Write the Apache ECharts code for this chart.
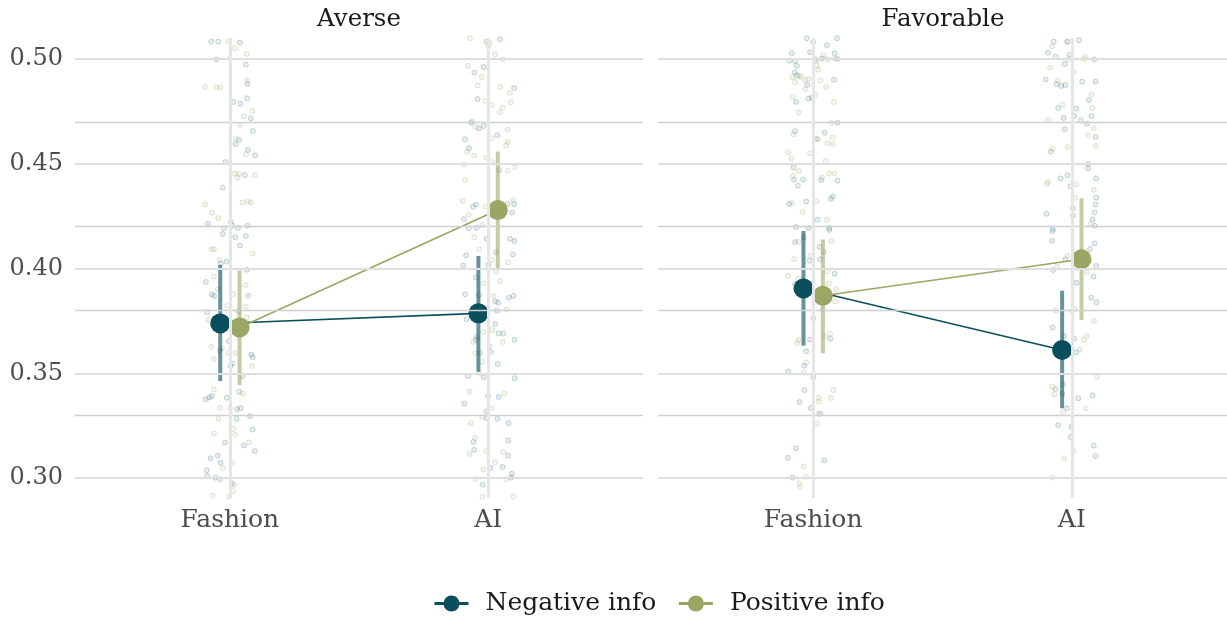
<!DOCTYPE html>
<html>
<head>
<meta charset="utf-8">
<script src="https://cdn.jsdelivr.net/npm/echarts@6/dist/echarts.min.js"></script>
<style>
  html, body { margin: 0; padding: 0; background: #ffffff; }
  #chart { width: 1227px; height: 619px; }
</style>
</head>
<body>
<div id="chart"></div>
<script>
// ---- data -------------------------------------------------------------
const categories = ['Fashion', 'AI'];
const facets = ['Averse', 'Favorable'];
const groups = ['Negative info', 'Positive info'];
const yTicks = [0.30, 0.35, 0.40, 0.45, 0.50];
const yGrid = [0.30, 0.325, 0.35, 0.375, 0.40, 0.425, 0.45, 0.475, 0.50];

// estimated means and interval limits, one entry per category
const averseNegMean = [0.3738, 0.3786];
const averseNegLow  = [0.3463, 0.3507];
const averseNegHigh = [0.4017, 0.4060];
const aversePosMean = [0.3719, 0.4279];
const aversePosLow  = [0.3444, 0.4001];
const aversePosHigh = [0.3990, 0.4558];
const favNegMean = [0.3905, 0.3611];
const favNegLow  = [0.3632, 0.3333];
const favNegHigh = [0.4179, 0.3894];
const favPosMean = [0.3870, 0.4044];
const favPosLow  = [0.3595, 0.3754];
const favPosHigh = [0.4139, 0.4335];

// raw observations: [horizontal jitter (category units), value]
const averseNegFashion = [[-0.072,0.5083],[-0.045,0.5083],[0.039,0.5078],[-0.053,0.4998],[0.062,0.4973],[0.068,0.4881],[0.066,0.4812],[0.014,0.4795],[0.041,0.4787],[0.081,0.4717],[0.089,0.4656],[0.036,0.4613],[0.022,0.4594],[0.070,0.4566],[0.098,0.4540],[-0.017,0.4508],[0.058,0.4446],[-0.028,0.4386],[-0.085,0.4214],[0.004,0.4222],[0.009,0.4204],[0.068,0.4204],[-0.023,0.4193],[0.031,0.4193],
  [-0.028,0.4165],[0.021,0.4149],[0.062,0.4155],[0.039,0.4109],[-0.013,0.4033],[-0.035,0.4025],[0.065,0.3994],[-0.093,0.3936],[-0.070,0.3877],[-0.061,0.3869],[0.070,0.3870],[-0.088,0.3792],[0.032,0.3797],[-0.004,0.3654],[-0.039,0.3608],[0.083,0.3590],[0.088,0.3577],[0.008,0.3547],[0.003,0.3535],[0.049,0.3487],[0.036,0.3412],[-0.070,0.3391],[-0.080,0.3385],[-0.093,0.3376],[-0.012,0.3383],[0.028,0.3329],[0.041,0.3334],[0.078,0.3296],[0.026,0.3283],[0.088,0.3232],[-0.019,0.3170],[0.054,0.3156],[0.096,0.3129],[-0.075,0.3095],[-0.047,0.3107],[-0.036,0.3073],[-0.090,0.3038],[-0.088,0.3011],[-0.057,0.3002],[-0.039,0.2994],[0.008,0.2975]];
const aversePosFashion = [[-0.005,0.5083],[0.019,0.5051],[0.065,0.5024],[0.000,0.5003],[0.068,0.4897],[-0.096,0.4866],[-0.052,0.4866],[-0.037,0.4863],[0.087,0.4752],[0.053,0.4726],[0.039,0.4685],[0.023,0.4621],[0.062,0.4545],[0.019,0.4453],[0.035,0.4451],[0.030,0.4434],[0.097,0.4446],[-0.096,0.4306],[0.049,0.4316],[0.070,0.4321],[0.081,0.4316],[-0.070,0.4267],[-0.045,0.4241],
  [-0.071,0.4092],[-0.061,0.4092],[0.088,0.4071],[-0.041,0.4041],[-0.062,0.3961],[0.061,0.3921],[-0.047,0.3901],[0.013,0.3878],[-0.010,0.3824],[0.062,0.3818],[0.065,0.3767],[-0.084,0.3754],[-0.072,0.3627],[-0.031,0.3619],[-0.006,0.3598],[-0.062,0.3568],[0.021,0.3598],[0.085,0.3535],[-0.062,0.3423],[0.049,0.3404],[-0.039,0.3336],[0.001,0.3333],[-0.044,0.3283],[0.013,0.3235],[-0.062,0.3213],[0.021,0.3207],[0.074,0.3170],[0.008,0.3076],[-0.028,0.3048],[0.016,0.2967],[0.013,0.2938],[-0.067,0.2917],[-0.004,0.2911]];
const averseNegAI = [[-0.006,0.5083],[0.047,0.5094],[-0.017,0.4962],[-0.053,0.4935],[0.101,0.4861],[-0.041,0.4809],[-0.066,0.4696],[-0.035,0.4669],[-0.017,0.4680],[-0.089,0.4617],[0.035,0.4636],[-0.074,0.4574],[0.043,0.4470],[-0.059,0.4295],[-0.047,0.4305],[0.101,0.4308],[0.075,0.4308],[0.093,0.4267],[-0.094,0.4235],[-0.075,0.4192],[-0.044,0.4195],
  [-0.005,0.4142],[0.085,0.4142],[0.102,0.4131],[-0.085,0.4063],[0.031,0.4076],[0.096,0.4067],[-0.096,0.4015],[0.001,0.4018],[-0.047,0.3958],[-0.089,0.3877],[-0.035,0.3872],[0.028,0.3843],[0.039,0.3837],[0.081,0.3861],[0.098,0.3870],[0.034,0.3799],[-0.083,0.3759],[0.028,0.3735],[0.041,0.3690],[0.059,0.3690],[0.102,0.3660],[-0.044,0.3675],[-0.047,0.3660],[0.010,0.3603],[-0.031,0.3598],[0.037,0.3544],[-0.078,0.3488],[-0.017,0.3481],[0.103,0.3477],[0.000,0.3393],[0.041,0.3387],[-0.092,0.3356],[-0.006,0.3318],[-0.005,0.3286],[0.036,0.3283],[0.079,0.3263],[-0.057,0.3172],[-0.054,0.3135],[0.078,0.3180],[0.078,0.3107],[0.009,0.3049],[0.056,0.3053],[0.092,0.3021],[0.089,0.3002],[-0.021,0.2968]];
const aversePosAI = [[-0.070,0.5099],[0.005,0.5078],[0.001,0.5064],[0.027,0.5022],[0.058,0.4998],[-0.079,0.4967],[-0.025,0.4914],[-0.040,0.4874],[0.048,0.4866],[0.084,0.4838],[-0.012,0.4800],[0.014,0.4780],[0.088,0.4793],[0.057,0.4768],[0.045,0.4747],[-0.061,0.4701],[-0.049,0.4674],[0.075,0.4663],[0.013,0.4622],[0.076,0.4604],[0.070,0.4588],[-0.081,0.4556],[-0.054,0.4539],[-0.008,0.4529],[0.014,0.4508],[-0.093,0.4496],[0.076,0.4467],[0.102,0.4483],[-0.089,0.4424],[-0.098,0.4322],[-0.010,0.4295],[0.096,0.4327],[-0.075,0.4257],[-0.023,0.4208],
  [-0.054,0.4149],[-0.034,0.4092],[0.014,0.4041],[0.078,0.4029],[0.031,0.3985],[0.047,0.3940],[-0.018,0.3929],[0.021,0.3869],[0.072,0.3805],[-0.018,0.3698],[0.017,0.3706],[-0.057,0.3650],[0.057,0.3650],[0.005,0.3630],[-0.049,0.3595],[-0.023,0.3555],[-0.034,0.3500],[-0.072,0.3412],[0.063,0.3403],[0.014,0.3333],[-0.022,0.3291],[-0.067,0.3263],[-0.050,0.3191],[-0.072,0.3115],[-0.006,0.3129],[0.059,0.3124],[0.027,0.3075],[-0.018,0.3041],[-0.049,0.2995],[0.070,0.2994],[-0.022,0.2911],[0.098,0.2911]];
const favNegFashion = [[-0.025,0.5099],[0.000,0.5080],[0.092,0.5099],[-0.083,0.5027],[-0.012,0.5032],[0.053,0.5065],[0.083,0.5027],[-0.092,0.4992],[-0.070,0.4990],[0.008,0.4998],[0.034,0.5002],[0.094,0.5000],[-0.063,0.4967],[-0.072,0.4936],[-0.063,0.4921],[0.080,0.4901],[-0.022,0.4876],[-0.066,0.4795],[-0.018,0.4811],[-0.005,0.4815],[0.094,0.4696],[-0.070,0.4655],[0.044,0.4648],[0.012,0.4618],[-0.076,0.4483],[-0.074,0.4424],[-0.039,0.4424],[0.031,0.4422],[0.094,0.4419],[-0.059,0.4395],[0.076,0.4343],[0.068,0.4333],[-0.093,0.4308],[-0.027,0.4320],[0.017,0.4233],[-0.066,0.4198],[-0.018,0.4193],[0.063,0.4193],
  [-0.037,0.4149],[-0.070,0.4126],[0.062,0.4184],[0.025,0.4104],[0.041,0.4080],[-0.013,0.4037],[0.027,0.4044],[0.083,0.3975],[-0.070,0.3924],[0.001,0.3762],[-0.012,0.3661],[0.066,0.3665],[-0.027,0.3605],[-0.034,0.3536],[-0.096,0.3508],[0.001,0.3481],[-0.034,0.3420],[-0.053,0.3363],[-0.009,0.3334],[0.027,0.3307],[-0.067,0.3142],[-0.098,0.3097],[0.043,0.3084],[-0.080,0.3002]];
const favPosFashion = [[0.040,0.5018],[0.012,0.4992],[0.056,0.4998],[0.085,0.5002],[0.014,0.4968],[0.019,0.4949],[-0.079,0.4913],[-0.053,0.4921],[-0.047,0.4914],[-0.031,0.4898],[-0.018,0.4906],[-0.070,0.4889],[0.028,0.4897],[-0.031,0.4857],[0.050,0.4866],[-0.079,0.4819],[0.008,0.4830],[0.080,0.4795],[-0.056,0.4745],[0.070,0.4695],[-0.076,0.4640],[0.076,0.4626],[0.019,0.4618],[0.056,0.4598],[0.075,0.4593],[-0.096,0.4555],[-0.012,0.4550],[-0.085,0.4524],[0.048,0.4513],[-0.056,0.4465],[-0.079,0.4442],[0.062,0.4453],[0.083,0.4453],[0.034,0.4434],[-0.083,0.4314],[0.012,0.4320],[-0.041,0.4270],[0.053,0.4233],
  [-0.057,0.4128],[0.070,0.4131],[-0.009,0.4061],[-0.074,0.4045],[-0.098,0.3966],[-0.056,0.3951],[0.053,0.3986],[0.061,0.3929],[0.088,0.3901],[0.085,0.3843],[0.037,0.3805],[-0.057,0.3659],[-0.061,0.3643],[0.066,0.3690],[0.044,0.3676],[-0.027,0.3551],[-0.037,0.3504],[0.078,0.3420],[0.021,0.3383],[0.022,0.3365],[0.070,0.3382],[0.021,0.3307],[0.014,0.3260],[-0.037,0.3056],[-0.028,0.3006],[-0.053,0.2975],[-0.051,0.2957]];
const favNegAI = [[-0.070,0.5083],[-0.018,0.5083],[0.028,0.5089],[-0.092,0.5030],[-0.063,0.5011],[-0.009,0.5020],[0.087,0.4998],[-0.028,0.4976],[-0.101,0.4902],[-0.059,0.4880],[-0.041,0.4871],[-0.025,0.4876],[0.040,0.4892],[0.092,0.4892],[0.066,0.4804],[-0.053,0.4766],[0.018,0.4763],[-0.031,0.4718],[0.009,0.4728],[0.035,0.4706],[0.059,0.4691],[0.076,0.4727],[-0.027,0.4664],[0.092,0.4628],[-0.081,0.4558],[0.063,0.4499],[0.063,0.4478],[-0.043,0.4430],[-0.017,0.4445],[0.094,0.4430],[-0.005,0.4392],[0.094,0.4338],[0.092,0.4306],[0.004,0.4287],[-0.098,0.4261],[0.004,0.4253],[0.088,0.4268],[0.080,0.4235],[0.089,0.4204],[-0.074,0.4189],
  [-0.074,0.4179],[-0.076,0.4133],[0.088,0.4120],[0.070,0.4093],[-0.025,0.4044],[-0.072,0.3993],[0.094,0.4012],[0.084,0.3961],[0.018,0.3932],[0.075,0.3861],[0.096,0.3839],[-0.074,0.3718],[-0.030,0.3678],[0.009,0.3666],[0.017,0.3600],[-0.063,0.3425],[-0.034,0.3447],[-0.037,0.3403],[0.025,0.3381],[0.080,0.3395],[-0.018,0.3333],[-0.053,0.3253],[-0.001,0.3245],[-0.005,0.3196],[0.085,0.3156],[0.092,0.3105]];
const favPosAI = [[-0.017,0.5080],[-0.076,0.5059],[0.052,0.5008],[0.048,0.5000],[-0.014,0.4998],[-0.084,0.4959],[0.008,0.4938],[-0.053,0.4897],[0.076,0.4830],[-0.035,0.4781],[0.080,0.4766],[-0.092,0.4709],[0.085,0.4669],[0.063,0.4636],[-0.074,0.4572],[-0.015,0.4580],[0.093,0.4585],[-0.092,0.4413],[-0.096,0.4403],[0.017,0.4402],[0.085,0.4376],[0.012,0.4337],[0.072,0.4212],
  [-0.017,0.4061],[-0.057,0.4009],[0.058,0.3982],[-0.063,0.3800],[0.001,0.3797],[0.009,0.3807],[0.085,0.3751],[0.057,0.3678],[0.047,0.3660],[0.031,0.3614],[0.097,0.3484],[-0.076,0.3436],[-0.068,0.3400],[-0.034,0.3315],[0.054,0.3333],[0.006,0.3130],[-0.030,0.3094],[-0.074,0.3003]];

// ---- styling ----------------------------------------------------------
const FONT = "'DejaVu Serif', 'Liberation Serif', serif";
const COLORS = {
  'Negative info': { main: '#0b4f5e', bar: 'rgba(11,79,94,0.62)', dotFill: 'rgba(11,79,94,0.12)', dotLine: 'rgba(11,79,94,0.26)' },
  'Positive info': { main: '#9ba664', bar: 'rgba(155,166,100,0.58)', dotFill: 'rgba(155,166,100,0.14)', dotLine: 'rgba(155,166,100,0.32)' }
};
const DODGE = 0.0375;

const panelData = [
  {
    'Negative info': { mean: averseNegMean, low: averseNegLow, high: averseNegHigh, raw: [averseNegFashion, averseNegAI] },
    'Positive info': { mean: aversePosMean, low: aversePosLow, high: aversePosHigh, raw: [aversePosFashion, aversePosAI] }
  },
  {
    'Negative info': { mean: favNegMean, low: favNegLow, high: favNegHigh, raw: [favNegFashion, favNegAI] },
    'Positive info': { mean: favPosMean, low: favPosLow, high: favPosHigh, raw: [favPosFashion, favPosAI] }
  }
];

const gridBoxes = [
  { left: 75, width: 568, top: 38, height: 460 },
  { left: 658, width: 570, top: 38, height: 460 }
];

const grids = [], xAxes = [], yAxes = [], series = [], graphics = [];

facets.forEach((facet, p) => {
  grids.push(Object.assign({ containLabel: false }, gridBoxes[p]));
  xAxes.push({
    type: 'value', gridIndex: p, min: -0.6, max: 1.6,
    axisLine: { show: false }, axisTick: { show: false }, splitLine: { show: false },
    axisLabel: {
      customValues: [0, 1],
      formatter: v => categories[Math.round(v)],
      fontFamily: FONT, fontSize: 25, color: '#4d4d4d', margin: 10
    }
  });
  yAxes.push({
    type: 'value', gridIndex: p, min: 0.2905, max: 0.51,
    axisLine: { show: false }, axisTick: { show: false }, splitLine: { show: false },
    axisLabel: {
      show: p === 0,
      customValues: yTicks,
      formatter: v => v.toFixed(2),
      fontFamily: FONT, fontSize: 24, color: '#4d4d4d', margin: 12
    }
  });

  // background grid: horizontal value lines and a vertical line per category
  const gridLines = yGrid.map((v, k) => ({
    yAxis: v,
    lineStyle: k % 2 === 0 ? { color: '#dedede', width: 2.2, type: 'solid' } : { color: '#d0d0d0', width: 1.4, type: 'solid' }
  })).concat(categories.map((c, i) => ({
    xAxis: i, lineStyle: { color: '#e6e6e6', width: 3, type: 'solid' }
  })));
  series.push({
    type: 'line', name: 'grid-' + p, xAxisIndex: p, yAxisIndex: p, data: [], z: 0,
    silent: true,
    markLine: { silent: true, symbol: ['none', 'none'], label: { show: false }, animation: false, data: gridLines }
  });

  groups.forEach((g, gi) => {
    const d = panelData[p][g];
    const off = gi === 0 ? -DODGE : DODGE;
    const col = COLORS[g];

    // raw observations around each category
    const rawPts = [];
    d.raw.forEach((pts, ci) => pts.forEach(pt => rawPts.push([ci + pt[0], pt[1]])));
    series.push({
      type: 'scatter', name: g + ' obs', xAxisIndex: p, yAxisIndex: p, z: 1,
      symbol: 'circle', symbolSize: 5, silent: true,
      itemStyle: { color: col.dotFill, borderColor: col.dotLine, borderWidth: 1 },
      data: rawPts
    });

    // interval bars
    series.push({
      type: 'custom', name: g + ' interval', xAxisIndex: p, yAxisIndex: p, z: 2, silent: true,
      data: categories.map((c, ci) => [ci + off, d.low[ci], d.high[ci]]),
      encode: { x: 0, y: [1, 2] },
      renderItem: (params, api) => {
        const a = api.coord([api.value(0), api.value(1)]);
        const b = api.coord([api.value(0), api.value(2)]);
        return { type: 'rect', shape: { x: a[0] - 2, y: b[1], width: 4, height: a[1] - b[1] }, style: { fill: col.bar } };
      }
    });

    // means joined across categories
    series.push({
      type: 'line', name: g, xAxisIndex: p, yAxisIndex: p, z: 3,
      symbol: 'circle', symbolSize: 20, showSymbol: true,
      lineStyle: { color: col.main, width: 1.6 },
      itemStyle: { color: col.main },
      data: categories.map((c, ci) => [ci + off, d.mean[ci]])
    });
  });

  const g = gridBoxes[p];
  graphics.push({
    type: 'text', x: g.left + g.width / 2, y: 20,
    style: { text: facet, fontFamily: FONT, fontSize: 24.5, fill: '#1a1a1a', textAlign: 'center', textVerticalAlign: 'middle' }
  });
});

const chart = echarts.init(document.getElementById('chart'), null, { renderer: 'canvas' });
chart.setOption({
  animation: false,
  backgroundColor: '#ffffff',
  grid: grids,
  xAxis: xAxes,
  yAxis: yAxes,
  graphic: graphics,
  legend: {
    data: groups,
    left: 433, top: 591, padding: 0,
    itemWidth: 34, itemHeight: 20, itemGap: 21,
    lineStyle: { width: 3 },
    textStyle: { fontFamily: FONT, fontSize: 25, color: '#1a1a1a', padding: [0, 0, 0, 12] }
  },
  series: series
});
</script>
</body>
</html>
